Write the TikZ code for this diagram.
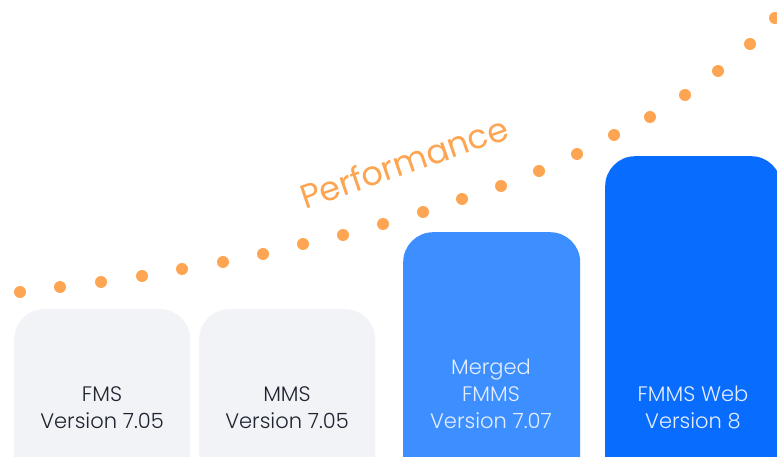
\documentclass[tikz,border=0pt]{standalone}
\usepackage{fontspec}
\setmainfont{Poppins}[UprightFont={* Light}]
\newfontfamily\perffont{Poppins}
\definecolor{dotorange}{HTML}{FDA552}
\definecolor{greybox}{HTML}{F2F3F7}
\definecolor{midblue}{HTML}{3D8EFF}
\definecolor{deepblue}{HTML}{086CFF}
\definecolor{darktext}{HTML}{1E2430}
\definecolor{lighttext}{HTML}{E3EEFF}
\begin{document}
\begin{tikzpicture}[x=1pt,y=-1pt,
  bar/.style={rounded corners=30pt, inner sep=0pt, anchor=north west},
  lbl/.style={align=center, font=\fontsize{21}{27}\selectfont, inner sep=0pt},
  perfdot/.style={circle, fill=dotorange, inner sep=0pt, minimum size=12pt}]
\useasboundingbox (0,0) rectangle (777,457);
\clip (0,0) rectangle (777,457);
\fill[white] (0,0) rectangle (777,457);
% bars
\node[bar, fill=greybox, minimum width=176pt, minimum height=200pt] (b1) at (14,309) {};
\node[bar, fill=greybox, minimum width=176pt, minimum height=200pt] (b2) at (199,309) {};
\node[bar, fill=midblue, minimum width=177pt, minimum height=280pt] (b3) at (403,232) {};
\node[bar, fill=deepblue, minimum width=176pt, minimum height=360pt] (b4) at (605,156) {};
% labels
\node[lbl, text=darktext, anchor=base] (t1) at (102,428) {FMS\\Version 7.05};
\node[lbl, text=darktext, anchor=base] (t2) at (287,428) {MMS\\Version 7.05};
\node[lbl, text=lighttext, anchor=base] (t3) at (491,428) {Merged\\FMMS\\Version 7.07};
\node[lbl, text=lighttext, anchor=base] (t4) at (693,428) {FMMS Web\\Version 8};
% dots
\foreach \px/\py [count=\i] in {20/292,60/287,101/282,142/276,182/269,223/262,263/254,303/244,343/235,383/224,423/212,462/199,501/186,539/171,577/154,614/135,650/117,685/95,718/71,750/44,775/18}
  \node[perfdot] (d\i) at (\px,\py) {};
% performance label
\node[text=dotorange, font=\perffont\fontsize{33.5}{34}\selectfont, rotate=19, inner sep=0pt] (perf) at (404,162) {Performance};
\end{tikzpicture}
\end{document}
